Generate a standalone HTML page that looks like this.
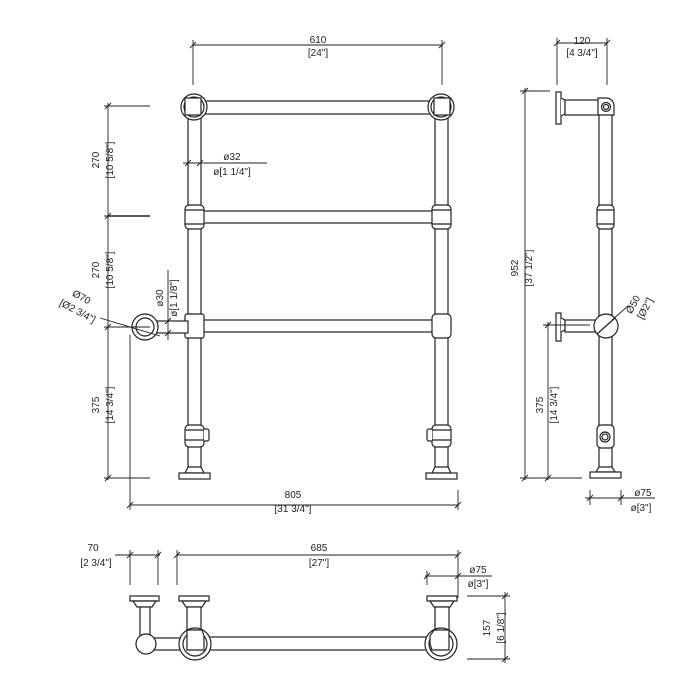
<!DOCTYPE html>
<html><head><meta charset="utf-8"><style>
html,body{margin:0;padding:0;background:#fff;width:700px;height:700px;overflow:hidden}
svg{display:block}
text{font-family:"Liberation Sans",sans-serif;font-size:10px;fill:#222}
</style></head><body>
<svg width="700" height="700" viewBox="0 0 700 700" xmlns="http://www.w3.org/2000/svg">
<g stroke="#222" stroke-width="1.2" fill="#fff">
<!-- FRONT VIEW -->
<rect x="188" y="112" width="13" height="356"/>
<rect x="435" y="112" width="13" height="356"/>
<rect x="200" y="101" width="236" height="13"/>
<circle cx="194" cy="107" r="13"/><circle cx="194" cy="107" r="10"/>
<rect x="185" y="98" width="16" height="17"/>
<circle cx="441" cy="107" r="13"/><circle cx="441" cy="107" r="10"/>
<rect x="434" y="98" width="16" height="17"/>
<rect x="201" y="211" width="234" height="12"/>
<rect x="185" y="205" width="19" height="24" rx="4"/>
<rect x="432" y="205" width="19" height="24" rx="4"/>
<line x1="185" y1="210" x2="204" y2="210"/><line x1="185" y1="224" x2="204" y2="224"/>
<line x1="432" y1="210" x2="451" y2="210"/><line x1="432" y1="224" x2="451" y2="224"/>
<rect x="201" y="320" width="234" height="12"/>
<rect x="185" y="314" width="19" height="24" rx="2"/>
<rect x="432" y="314" width="19" height="24" rx="4"/>
<rect x="157" y="321" width="31" height="12"/>
<circle cx="145" cy="327" r="13"/><circle cx="145" cy="327" r="9"/>
<rect x="185" y="425" width="19" height="22" rx="4"/>
<line x1="185" y1="430" x2="204" y2="430"/><line x1="185" y1="440" x2="204" y2="440"/>
<path d="M204 429 h3 a2 2 0 0 1 2 2 v8 a2 2 0 0 1 -2 2 h-3"/>
<path d="M188 467 h13 l3 6 h-19 z"/>
<rect x="179" y="473" width="31" height="6"/>
<rect x="432" y="425" width="19" height="22" rx="4"/>
<line x1="432" y1="430" x2="451" y2="430"/><line x1="432" y1="440" x2="451" y2="440"/>
<path d="M432 429 h-3 a2 2 0 0 0 -2 2 v8 a2 2 0 0 0 2 2 h3"/>
<path d="M435 467 h13 l3 6 h-19 z"/>
<rect x="426" y="473" width="31" height="6"/>

<!-- SIDE VIEW -->
<rect x="599" y="114" width="13" height="356"/>
<rect x="556" y="92" width="5" height="32"/>
<path d="M561 98 l4 2 v14 l-4 2"/>
<rect x="565" y="100" width="34" height="15"/>
<path d="M598 98 h8 a8 8 0 0 1 8 8 v9 h-16 z"/>
<circle cx="606" cy="107" r="4.5"/><circle cx="606" cy="107" r="2.5"/>
<rect x="597" y="205" width="17" height="24" rx="4"/>
<line x1="597" y1="210" x2="614" y2="210"/><line x1="597" y1="224" x2="614" y2="224"/>
<rect x="556" y="313" width="5" height="28"/>
<path d="M561 318 l4 2 v10 l-4 2"/>
<rect x="565" y="320" width="34" height="12"/>
<circle cx="606" cy="326" r="12"/>
<line x1="597" y1="334" x2="615" y2="318"/>
<rect x="597" y="425" width="17" height="23" rx="4"/>
<circle cx="605" cy="437" r="5"/><circle cx="605" cy="437" r="3"/>
<path d="M599 467 h13 l3 5 h-19 z"/>
<rect x="590" y="472" width="31" height="6"/>

<!-- TOP VIEW -->
<rect x="130" y="596" width="29" height="5"/>
<path d="M133 601 h23 l-4 6 h-15 z"/>
<rect x="140" y="607" width="10" height="33"/>
<rect x="179" y="596" width="30" height="5"/>
<path d="M182 601 h24 l-4 6 h-16 z"/>
<rect x="187" y="607" width="14" height="23"/>
<rect x="427" y="596" width="30" height="5"/>
<path d="M430 601 h24 l-4 6 h-16 z"/>
<rect x="435" y="607" width="14" height="23"/>
<rect x="150" y="638" width="36" height="12"/>
<circle cx="146" cy="644" r="10"/>
<rect x="203" y="637" width="230" height="13"/>
<circle cx="195" cy="644" r="16"/><circle cx="195" cy="644" r="12"/>
<path d="M187 630 h15 l2 6 v14 h-17 z"/>
<circle cx="441" cy="644" r="16"/><circle cx="441" cy="644" r="12"/>
<path d="M434 630 h15 v20 h-17 l-2 -6 v-8 z"/>
</g>

<!-- DIMENSION LINES -->
<g stroke="#222" stroke-width="0.9" fill="none">
<line x1="193" y1="45" x2="442" y2="45"/>
<line x1="193" y1="40" x2="193" y2="85"/><line x1="442" y1="40" x2="442" y2="85"/>
<line x1="190" y1="48" x2="196" y2="42"/><line x1="439" y1="48" x2="445" y2="42"/>
<line x1="108" y1="103" x2="108" y2="480"/>
<line x1="104" y1="106" x2="150" y2="106"/>
<line x1="104" y1="216" x2="150" y2="216"/>
<line x1="104" y1="327" x2="150" y2="327"/>
<line x1="104" y1="478" x2="150" y2="478"/>
<line x1="105" y1="109" x2="111" y2="103"/><line x1="105" y1="219" x2="111" y2="213"/>
<line x1="105" y1="330" x2="111" y2="324"/><line x1="105" y1="481" x2="111" y2="475"/>
<line x1="183" y1="163" x2="267" y2="163"/>
<line x1="185" y1="166" x2="191" y2="160"/><line x1="197" y1="166" x2="203" y2="160"/>
<line x1="168" y1="270" x2="168" y2="340"/>
<line x1="165" y1="324" x2="171" y2="318"/><line x1="165" y1="336" x2="171" y2="330"/>
<line x1="100" y1="318" x2="160" y2="336"/>
<line x1="130" y1="505" x2="458" y2="505"/>
<line x1="130" y1="335" x2="130" y2="510"/><line x1="458" y1="490" x2="458" y2="510"/>
<line x1="127" y1="508" x2="133" y2="502"/><line x1="455" y1="508" x2="461" y2="502"/>
<line x1="557" y1="43" x2="607" y2="43"/>
<line x1="557" y1="38" x2="557" y2="85"/><line x1="607" y1="38" x2="607" y2="85"/>
<line x1="554" y1="46" x2="560" y2="40"/><line x1="604" y1="46" x2="610" y2="40"/>
<line x1="525" y1="88" x2="525" y2="480"/>
<line x1="520" y1="91" x2="550" y2="91"/><line x1="520" y1="478" x2="582" y2="478"/>
<line x1="522" y1="94" x2="528" y2="88"/><line x1="522" y1="481" x2="528" y2="475"/>
<line x1="548" y1="322" x2="548" y2="480"/>
<line x1="543" y1="325" x2="590" y2="325"/>
<line x1="545" y1="328" x2="551" y2="322"/><line x1="545" y1="481" x2="551" y2="475"/>
<line x1="612" y1="320" x2="628" y2="306"/>
<line x1="585" y1="498" x2="655" y2="498"/>
<line x1="590" y1="490" x2="590" y2="505"/><line x1="621" y1="490" x2="621" y2="505"/>
<line x1="587" y1="501" x2="593" y2="495"/><line x1="618" y1="501" x2="624" y2="495"/>
<line x1="115" y1="555" x2="160" y2="555"/>
<line x1="130" y1="550" x2="130" y2="585"/><line x1="158" y1="550" x2="158" y2="585"/>
<line x1="127" y1="558" x2="133" y2="552"/><line x1="155" y1="558" x2="161" y2="552"/>
<line x1="177" y1="555" x2="458" y2="555"/>
<line x1="177" y1="550" x2="177" y2="585"/><line x1="458" y1="550" x2="458" y2="598"/>
<line x1="174" y1="558" x2="180" y2="552"/><line x1="455" y1="558" x2="461" y2="552"/>
<line x1="425" y1="576" x2="492" y2="576"/>
<line x1="427" y1="571" x2="427" y2="585"/>
<line x1="424" y1="579" x2="430" y2="573"/><line x1="455" y1="579" x2="461" y2="573"/>
<line x1="467" y1="596" x2="510" y2="596"/><line x1="467" y1="659" x2="510" y2="659"/>
<line x1="505" y1="592" x2="505" y2="663"/>
<line x1="502" y1="599" x2="508" y2="593"/><line x1="502" y1="662" x2="508" y2="656"/>
</g>
<line x1="108" y1="216" x2="150" y2="216" stroke="#222" stroke-width="1.6"/>

<text x="318" y="43" text-anchor="middle">610</text>
<text x="318" y="56" text-anchor="middle">[24"]</text>
<text transform="translate(99,160) rotate(-90)" text-anchor="middle">270</text>
<text transform="translate(113,160) rotate(-90)" text-anchor="middle">[10 5/8"]</text>
<text transform="translate(99,270) rotate(-90)" text-anchor="middle">270</text>
<text transform="translate(113,270) rotate(-90)" text-anchor="middle">[10 5/8"]</text>
<text transform="translate(99,405) rotate(-90)" text-anchor="middle">375</text>
<text transform="translate(113,405) rotate(-90)" text-anchor="middle">[14 3/4"]</text>
<text x="232" y="160" text-anchor="middle">ø32</text>
<text x="232" y="175" text-anchor="middle">ø[1 1/4"]</text>
<text transform="translate(163,298) rotate(-90)" text-anchor="middle">ø30</text>
<text transform="translate(177,298) rotate(-90)" text-anchor="middle">ø[1 1/8"]</text>
<text transform="translate(80,300) rotate(28)" text-anchor="middle">Ø70</text>
<text transform="translate(76,314) rotate(28)" text-anchor="middle">[Ø2 3/4"]</text>
<text x="293" y="498" text-anchor="middle">805</text>
<text x="293" y="512" text-anchor="middle">[31 3/4"]</text>
<text x="582" y="44" text-anchor="middle">120</text>
<text x="582" y="56" text-anchor="middle">[4 3/4"]</text>
<text transform="translate(518,268) rotate(-90)" text-anchor="middle">952</text>
<text transform="translate(532,268) rotate(-90)" text-anchor="middle">[37 1/2"]</text>
<text transform="translate(543,405) rotate(-90)" text-anchor="middle">375</text>
<text transform="translate(557,405) rotate(-90)" text-anchor="middle">[14 3/4"]</text>
<text transform="translate(636,306) rotate(-62)" text-anchor="middle">Ø50</text>
<text transform="translate(648,310) rotate(-62)" text-anchor="middle">[Ø2"]</text>
<text x="643" y="496" text-anchor="middle">ø75</text>
<text x="641" y="511" text-anchor="middle">ø[3"]</text>
<text x="93" y="551" text-anchor="middle">70</text>
<text x="96" y="566" text-anchor="middle">[2 3/4"]</text>
<text x="319" y="551" text-anchor="middle">685</text>
<text x="319" y="566" text-anchor="middle">[27"]</text>
<text x="478" y="573" text-anchor="middle">ø75</text>
<text x="478" y="587" text-anchor="middle">ø[3"]</text>
<text transform="translate(490,628) rotate(-90)" text-anchor="middle">157</text>
<text transform="translate(504,628) rotate(-90)" text-anchor="middle">[6 1/8"]</text>
</svg>
</body></html>
